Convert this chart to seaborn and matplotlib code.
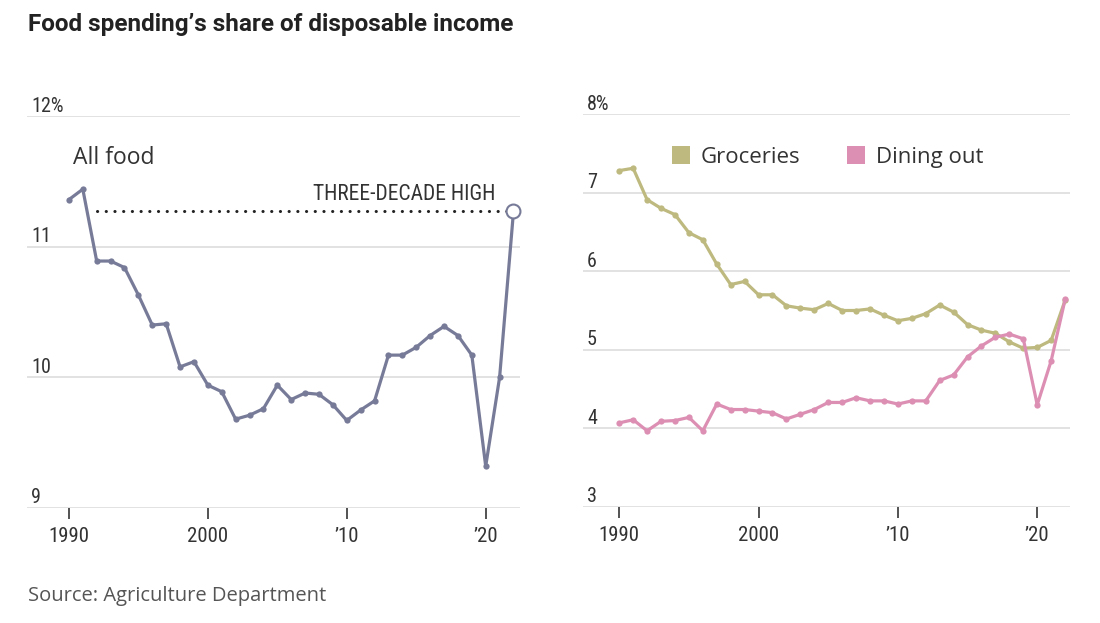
import numpy as np
import pandas as pd
import matplotlib
matplotlib.use("Agg")
import matplotlib.pyplot as plt
import matplotlib.transforms as mtransforms
from matplotlib.lines import Line2D
from matplotlib import font_manager
import seaborn as sns

sns.set_theme(style="white")

installed = {f.name for f in font_manager.fontManager.ttflist}
narrow = 'DejaVu Sans'
for name in ['Liberation Sans Narrow', 'Roboto Condensed', 'Open Sans Condensed', 'Roboto']:
    if name in installed:
        narrow = name
        break
plt.rcParams['font.family'] = ['Open Sans', 'DejaVu Sans']

years = list(range(1990, 2023))
all_food = [11.36, 11.44, 10.89, 10.89, 10.84, 10.63, 10.40, 10.41, 10.08, 10.12,
            9.94, 9.89, 9.68, 9.71, 9.76, 9.94, 9.83, 9.88, 9.87, 9.79,
            9.67, 9.75, 9.82, 10.17, 10.17, 10.23, 10.32, 10.39, 10.32, 10.17,
            9.32, 10.00, 11.27]
groceries = [7.28, 7.31, 6.91, 6.80, 6.72, 6.49, 6.40, 6.09, 5.83, 5.87,
             5.70, 5.70, 5.56, 5.53, 5.51, 5.59, 5.50, 5.50, 5.52, 5.44,
             5.37, 5.40, 5.46, 5.57, 5.48, 5.32, 5.25, 5.21, 5.10, 5.02,
             5.03, 5.12, 5.63]
dining_out = [4.07, 4.11, 3.97, 4.09, 4.10, 4.14, 3.97, 4.31, 4.24, 4.24,
              4.22, 4.20, 4.12, 4.18, 4.24, 4.33, 4.33, 4.39, 4.35, 4.35,
              4.31, 4.35, 4.35, 4.61, 4.68, 4.91, 5.05, 5.16, 5.20, 5.14,
              4.30, 4.86, 5.64]

left_yticks = [9, 10, 11, 12]
left_ylabels = ['9', '10', '11', '12%']
right_yticks = [3, 4, 5, 6, 7, 8]
right_ylabels = ['3', '4', '5', '6', '7', '8%']
xticks = [1990, 2000, 2010, 2020]
xlabels = ['1990', '2000', "\u201910", "\u201920"]
high_start = 1992

df = pd.DataFrame({'year': years, 'all_food': all_food,
                   'Groceries': groceries, 'Dining out': dining_out})

c_all = '#777b98'
c_groc = '#bdb97f'
c_dine = '#dc8fb3'
grid_c = '#e2e2e2'
text_c = '#333333'

fig = plt.figure(figsize=(11, 6.23), dpi=100)
ax1 = fig.add_axes([0.0245, 0.1846, 0.448, 0.6292])
ax2 = fig.add_axes([0.530, 0.1862, 0.4427, 0.6308])


def style_axis(ax, ticks, labels, xlim):
    ax.set_xlim(*xlim)
    ax.set_ylim(ticks[0], ticks[-1])
    for s in ax.spines.values():
        s.set_visible(False)
    ax.set_yticks([])
    for t in ticks:
        ax.axhline(t, color=grid_c, lw=1.4, zorder=0)
    trans = mtransforms.blended_transform_factory(ax.transAxes, ax.transData)
    off = mtransforms.ScaledTranslation(4 / 100, 0.5 / 100, fig.dpi_scale_trans)
    for t, lab in zip(ticks, labels):
        ax.text(0.0, t, lab, transform=trans + off, ha='left', va='bottom',
                fontsize=14.5, color=text_c, family=[narrow, 'DejaVu Sans'])
    ax.set_xticks(xticks)
    ax.set_xticklabels(xlabels, family=[narrow, 'DejaVu Sans'], fontsize=15,
                       color=text_c)
    ax.tick_params(axis='x', bottom=True, length=8, width=1.3, color='#444444',
                   pad=6, direction='out')
    ax.set_xlabel('')
    ax.set_ylabel('')


# left panel
sns.lineplot(data=df.iloc[:-1], x='year', y='all_food', ax=ax1, color=c_all,
             lw=2.3, marker='o', markersize=4.5, markeredgewidth=0, zorder=3)
ax1.plot(df['year'].iloc[-2:], df['all_food'].iloc[-2:], color=c_all, lw=2.3, zorder=3)
ax1.plot([df['year'].iloc[-1]], [df['all_food'].iloc[-1]], marker='o', markersize=10,
         markerfacecolor='white', markeredgecolor=c_all, markeredgewidth=1.5,
         zorder=5, clip_on=False)
ax1.plot([high_start, years[-1] - 0.45], [all_food[-1]] * 2, color='#222222',
         lw=2.2, linestyle=(0, (0.05, 2.8)), dash_capstyle='round', zorder=2)
style_axis(ax1, left_yticks, left_ylabels, (1986.98, 2022.45))
ax1.text(1990.3, 11.635, 'All food', fontsize=16.5, color=text_c, va='baseline')
ax1.text(years[-1] - 1.3, all_food[-1] + 0.09, 'THREE-DECADE HIGH', ha='right',
         va='baseline', fontsize=15.5, color=text_c, family=[narrow, 'DejaVu Sans'])

# right panel
long = df.melt(id_vars='year', value_vars=['Groceries', 'Dining out'],
               var_name='kind', value_name='share')
sns.lineplot(data=long, x='year', y='share', hue='kind', ax=ax2,
             palette={'Groceries': c_groc, 'Dining out': c_dine},
             lw=2.3, marker='o', markersize=4.5, markeredgewidth=0,
             legend=False, zorder=3)
style_axis(ax2, right_yticks, right_ylabels, (1987.4, 2022.35))
handles = [Line2D([], [], marker='s', linestyle='', markersize=13,
                  markerfacecolor=c, markeredgewidth=0) for c in (c_groc, c_dine)]
ax2.legend(handles, ['Groceries', 'Dining out'], loc='center',
           bbox_to_anchor=(0.5, 0.889), ncol=2, frameon=False, fontsize=16,
           handletextpad=0.4, columnspacing=2.0, handlelength=1.0,
           labelcolor=text_c)

fig.text(0.025, 0.96, 'Food spending\u2019s share of disposable income',
         fontsize=17.5, fontweight='bold', color='#222222', va='center',
         family=['Roboto', 'DejaVu Sans'])
fig.text(0.025, 0.043, 'Source: Agriculture Department', fontsize=14.5,
         color='#555555', va='center')

fig.savefig('out.png', dpi=100)
